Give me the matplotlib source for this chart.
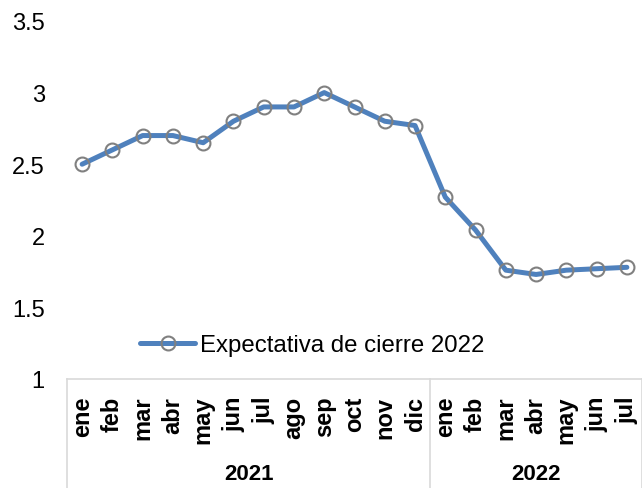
import matplotlib.pyplot as plt
from matplotlib.transforms import blended_transform_factory

plt.rcParams['font.family'] = ['Liberation Sans', 'DejaVu Sans']

months = ["ene", "feb", "mar", "abr", "may", "jun", "jul", "ago", "sep",
          "oct", "nov", "dic", "ene", "feb", "mar", "abr", "may", "jun", "jul"]
years = ["2021", "2022"]
months_per_year = [12, 7]
expectativa = [2.50, 2.60, 2.70, 2.70, 2.65, 2.80, 2.90, 2.90, 3.00,
               2.90, 2.80, 2.77, 2.27, 2.04, 1.76, 1.73, 1.76, 1.77, 1.78]
y_ticks = [1, 1.5, 2, 2.5, 3, 3.5]
y_tick_labels = ["1", "1.5", "2", "2.5", "3", "3.5"]

fig = plt.figure(figsize=(6.42, 4.89), dpi=100)
ax = fig.add_axes([67 / 642, 109 / 489, 575 / 642, 358 / 489])

x = list(range(len(months)))
ax.plot(x, expectativa, color="#4F81BD", linewidth=3.6,
        marker="o", markersize=10, markerfacecolor="none",
        markeredgecolor="#808080", markeredgewidth=1.5,
        label="Expectativa de cierre 2022", solid_capstyle="round")

ax.set_xlim(-0.5, len(months) - 0.5)
ax.set_ylim(1, 3.5)
ax.set_yticks(y_ticks)
ax.set_yticklabels(y_tick_labels, fontsize=17)
ax.tick_params(axis="y", length=0, pad=16)

ax.set_xticks(x)
ax.set_xticklabels(months, rotation=90, fontsize=17, fontweight="bold", va="top")
ax.tick_params(axis="x", length=0, pad=12)

for side in ["top", "right", "left"]:
    ax.spines[side].set_visible(False)
ax.spines["bottom"].set_color("#D9D9D9")
ax.spines["bottom"].set_linewidth(1.2)

# year grouping under the month labels
trans = blended_transform_factory(ax.transData, ax.transAxes)
start = 0
bounds = [-0.5]
for y_name, n in zip(years, months_per_year):
    center = start + (n - 1) / 2
    ax.text(center, -0.265, y_name, transform=trans, ha="center", va="center",
            fontsize=16, fontweight="bold")
    start += n
    bounds.append(start - 0.5)
for b in bounds:
    ax.plot([b, b], [0, -0.32], transform=trans, color="#D9D9D9",
            linewidth=1.2, clip_on=False)

ax.legend(loc="center left", bbox_to_anchor=(0.127, 0.095), frameon=False,
          fontsize=17.3, handlelength=2.3, handletextpad=0.2,
          borderpad=0, borderaxespad=0)

fig.savefig("out.png", dpi=100)
